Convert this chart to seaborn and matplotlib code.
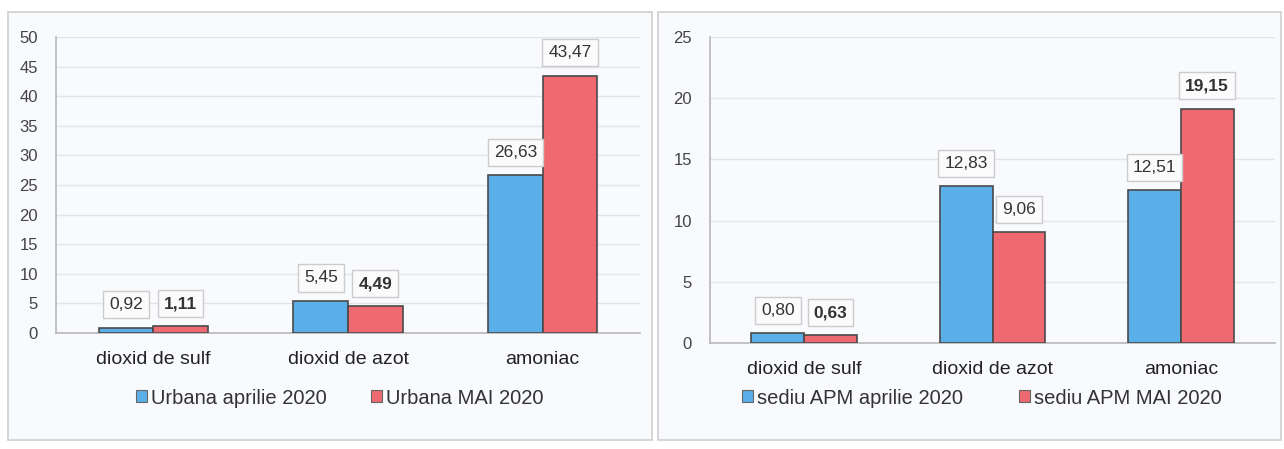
import matplotlib
matplotlib.use("Agg")
import matplotlib.pyplot as plt
import seaborn as sns
import pandas as pd
from matplotlib.patches import Rectangle

categories = ["dioxid de sulf", "dioxid de azot", "amoniac"]

left_series = ["Urbana aprilie 2020", "Urbana MAI 2020"]
left_april = [0.92, 5.45, 26.63]
left_may = [1.11, 4.49, 43.47]
left_labels_april = ["0,92", "5,45", "26,63"]
left_labels_may = ["1,11", "4,49", "43,47"]
left_bold_april = [False, False, False]
left_bold_may = [True, True, False]
left_yticks = [0, 5, 10, 15, 20, 25, 30, 35, 40, 45, 50]

right_series = ["sediu APM aprilie 2020", "sediu APM MAI 2020"]
right_april = [0.80, 12.83, 12.51]
right_may = [0.63, 9.06, 19.15]
right_labels_april = ["0,80", "12,83", "12,51"]
right_labels_may = ["0,63", "9,06", "19,15"]
right_bold_april = [False, False, False]
right_bold_may = [True, False, True]
right_yticks = [0, 5, 10, 15, 20, 25]

BLUE = "#5AAFE9"
RED = "#EE6A70"
BG = "#F8FAFD"

sns.set_theme(style="white")
plt.rcParams["font.family"] = ["Liberation Sans", "DejaVu Sans"]

fig = plt.figure(figsize=(12.84, 4.49), dpi=100)
fig.patch.set_facecolor("white")

# panel frames
for (x0, x1) in [(8, 652), (658, 1281)]:
    fig.patches.append(Rectangle((x0 / 1284, 1 - 440 / 449), (x1 - x0) / 1284, (440 - 12) / 449,
                                 transform=fig.transFigure, facecolor=BG,
                                 edgecolor="#CFCFCF", lw=1.2, zorder=-10))


def draw(ax, series, april, may, lab_a, lab_m, bold_a, bold_m, yticks, ymax, off):
    df = pd.DataFrame({
        "cat": categories * 2,
        "serie": [series[0]] * 3 + [series[1]] * 3,
        "val": april + may,
    })
    sns.barplot(data=df, x="cat", y="val", hue="serie", order=categories,
                hue_order=series, palette=[BLUE, RED], width=0.56,
                edgecolor="#4A4A4A", linewidth=1.2, ax=ax, saturation=1, zorder=3)
    ax.set_facecolor(BG)
    ax.set_ylim(0, ymax)
    ax.set_yticks(yticks)
    ax.set_yticklabels([str(t) for t in yticks], fontsize=12, color="#444444")
    ax.set_xlabel("")
    ax.set_ylabel("")
    ax.tick_params(axis="x", labelsize=14, colors="#222222", length=0, pad=13)
    ax.tick_params(axis="y", length=3, color="#BBBBBB", pad=10)
    ax.yaxis.grid(True, color="#E2E4E8", lw=1.0, zorder=0)
    ax.set_axisbelow(True)
    for s in ["top", "right"]:
        ax.spines[s].set_visible(False)
    ax.spines["left"].set_color("#BBBBBB")
    ax.spines["bottom"].set_color("#BBBBBB")
    ax.set_xticks([0.5, 1.5], minor=True)
    ax.tick_params(axis="x", which="minor", length=4, color="#BBBBBB", direction="out")
    ax.set_xlim(-0.5, 2.5)
    labels = [lab_a, lab_m]
    bolds = [bold_a, bold_m]
    for ci, cont in enumerate(ax.containers):
        for bi, bar in enumerate(cont):
            x = bar.get_x() + bar.get_width() / 2
            h = bar.get_height()
            ax.annotate(labels[ci][bi], (x, h), xytext=(0, off), textcoords="offset points",
                        ha="center", va="bottom", fontsize=12.5,
                        fontweight="bold" if bolds[ci][bi] else "normal",
                        color="#333333", zorder=5,
                        bbox=dict(boxstyle="square,pad=0.35", fc="#FBFBFB", ec="#CCCCCC", lw=1.0))
    ax.legend_.remove()
    return ax


ax1 = fig.add_axes([56 / 1284, 1 - 333 / 449, (640 - 56) / 1284, (333 - 37) / 449])
draw(ax1, left_series, left_april, left_may, left_labels_april, left_labels_may,
     left_bold_april, left_bold_may, left_yticks, 50, 11)

ax2 = fig.add_axes([710 / 1284, 1 - 343 / 449, (1275 - 710) / 1284, (343 - 37) / 449])
draw(ax2, right_series, right_april, right_may, right_labels_april, right_labels_may,
     right_bold_april, right_bold_may, right_yticks, 25, 11)

for ax, cx, cs in [(ax1, 340 / 1284, 2.2), (ax2, 982 / 1284, 2.8)]:
    handles = [Rectangle((0, 0), 1, 1, facecolor=c, edgecolor="#666666", lw=0.8) for c in [BLUE, RED]]
    names = left_series if ax is ax1 else right_series
    fig.legend(handles, names, loc="center", bbox_to_anchor=(cx, 1 - 398 / 449),
               ncol=2, frameon=False, fontsize=14.5, handlelength=0.55, handleheight=0.55,
               handletextpad=0.2, columnspacing=cs, labelcolor="#333333")

fig.savefig("out.png", dpi=100, facecolor="white")
